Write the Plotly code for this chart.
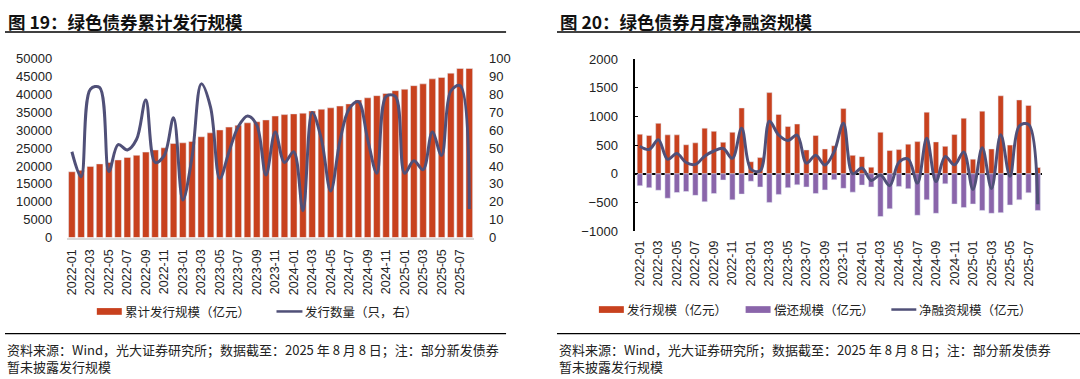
import plotly.graph_objects as go

W, H = 1080, 379

months = ["2022-01", "2022-02", "2022-03", "2022-04", "2022-05", "2022-06", "2022-07", "2022-08",
          "2022-09", "2022-10", "2022-11", "2022-12", "2023-01", "2023-02", "2023-03", "2023-04",
          "2023-05", "2023-06", "2023-07", "2023-08", "2023-09", "2023-10", "2023-11", "2023-12",
          "2024-01", "2024-02", "2024-03", "2024-04", "2024-05", "2024-06", "2024-07", "2024-08",
          "2024-09", "2024-10", "2024-11", "2024-12", "2025-01", "2025-02", "2025-03", "2025-04",
          "2025-05", "2025-06", "2025-07", "2025-08"]
tick_months = months[::2]

# Figure 19: cumulative issuance (100m CNY) and number of bonds issued
cum_issue = [18400, 18800, 19900, 20600, 21000, 21700, 22400, 23000, 23900, 24500, 25100, 26300,
             26500, 26900, 28200, 29300, 30100, 30900, 31400, 32100, 32400, 32900, 34000, 34400,
             34600, 34800, 35400, 35900, 36300, 36800, 37400, 38500, 39100, 39700, 40300, 41100,
             41500, 42500, 43000, 44400, 44800, 46000, 47300, 47300]
issue_count = [48, 34, 83, 84, 37, 52, 49, 55, 77, 42, 46, 67, 21, 45, 86, 73, 33, 48, 62, 68,
               63, 35, 59, 42, 48, 15, 70, 55, 26, 54, 72, 76, 55, 36, 79, 79, 36, 43, 38, 59,
               46, 82, 85, 16]

# Figure 20: monthly issuance, repayment, net financing (100m CNY)
issuance = [690, 667, 880, 679, 679, 506, 540, 796, 741, 550, 724, 1148, 210, 282, 1416, 1036,
            824, 868, 416, 667, 433, 489, 1137, 321, 299, 115, 724, 405, 422, 517, 561, 1075,
            556, 478, 684, 969, 255, 1093, 433, 1361, 500, 1288, 1193, 109]
repayment = [-209, -243, -288, -427, -327, -310, -377, -489, -344, -109, -455, -355, -131, -231,
             -500, -360, -243, -193, -231, -344, -282, -103, -254, -321, -198, -231, -746, -612,
             -221, -260, -724, -455, -690, -176, -528, -590, -528, -640, -690, -679, -545, -455,
             -332, -640]
net_financing = [481, 424, 592, 252, 352, 196, 163, 307, 397, 441, 269, 793, 79, 51, 916, 676,
                 581, 675, 185, 323, 151, 386, 883, 0, 101, -116, -22, -207, 201, 257, -163, 620,
                 -134, 302, 156, 379, -273, 453, -257, 682, -45, 833, 861, -531]

RED = "#C8411E"
PURPLE = "#8A65AA"
LINE = "#505078"
TXT = "#222222"
NUM_FONT = "Liberation Sans, Arial, Noto Sans CJK SC"
CJK_FONT = "Noto Sans CJK SC, Liberation Sans"


def px(x):
    return x / W


def py(y):
    return 1 - y / H


fig = go.Figure()

fig.add_trace(go.Bar(x=months, y=cum_issue, xaxis="x", yaxis="y", marker_color=RED,
                     width=0.72, name="累计发行规模（亿元）", showlegend=False))
fig.add_trace(go.Scatter(x=months, y=issue_count, xaxis="x", yaxis="y2", mode="lines",
                         line=dict(color=LINE, width=3, shape="spline", smoothing=1),
                         name="发行数量（只，右）", showlegend=False))

fig.add_trace(go.Bar(x=months, y=issuance, xaxis="x2", yaxis="y3", marker_color=RED,
                     width=0.58, name="发行规模（亿元）", showlegend=False))
fig.add_trace(go.Bar(x=months, y=repayment, xaxis="x2", yaxis="y3", marker_color=PURPLE,
                     width=0.58, name="偿还规模（亿元）", showlegend=False))
fig.add_trace(go.Scatter(x=months, y=net_financing, xaxis="x2", yaxis="y3", mode="lines",
                         line=dict(color=LINE, width=3, shape="spline", smoothing=1),
                         name="净融资规模（亿元）", showlegend=False))

xcommon = dict(type="category", range=[-0.5, 43.5], tickmode="array", tickvals=tick_months,
               ticktext=tick_months, tickangle=-90, showgrid=False, zeroline=False,
               tickfont=dict(family=NUM_FONT, size=12.5, color=TXT), ticks="", fixedrange=True)

fig.update_layout(
    width=W, height=H, autosize=False,
    margin=dict(l=0, r=0, t=0, b=0),
    paper_bgcolor="white", plot_bgcolor="white",
    barmode="overlay",
    font=dict(family=NUM_FONT, color=TXT),
    xaxis=dict(domain=[px(65.4), px(472.8)], anchor="y", showline=True, linecolor="#D9D9D9",
               linewidth=1.5, ticklabelstandoff=5, **xcommon),
    yaxis=dict(domain=[py(240), py(54)], range=[0, 50000], dtick=5000, tick0=0,
               tickformat="d",
               showgrid=False, zeroline=False, showline=False, ticks="",
               ticklabelstandoff=14,
               tickfont=dict(family=NUM_FONT, size=13, color=TXT), anchor="x"),
    yaxis2=dict(domain=[py(240), py(54)], range=[0, 100], dtick=10, tick0=0, overlaying="y",
                side="right", anchor="x", showgrid=False, zeroline=False, showline=False,
                ticks="", ticklabelstandoff=14,
                tickfont=dict(family=NUM_FONT, size=13, color=TXT)),
    xaxis2=dict(domain=[px(634.4), px(1042.3)], anchor="y3", showline=False,
                ticklabelstandoff=6, **xcommon),
    yaxis3=dict(domain=[py(233.3), py(54.3)], range=[-1000, 2000], dtick=500, tick0=0,
                tickformat="d",
                anchor="x2", showgrid=False, showline=True, linecolor="#000000", linewidth=1.5,
                ticks="inside", ticklen=3, tickcolor="#000000", tickwidth=1.2,
                zeroline=True, zerolinecolor="#000000", zerolinewidth=1.5,
                ticklabelstandoff=13,
                tickfont=dict(family=NUM_FONT, size=13, color=TXT)),
)

shapes = []
annotations = []

FOOT = "资料来源：Wind，光大证券研究所；数据截至：2025 年 8 月 8 日；注：部分新发债券<br>暂未披露发行规模"

# Titles and rules
for x0, x1, title in [(3, 505, "图 19：绿色债券累计发行规模"), (556, 1080, "图 20：绿色债券月度净融资规模")]:
    annotations.append(dict(x=px(x0 + 1), y=py(15), xref="paper", yref="paper", xanchor="left",
                            yanchor="middle", showarrow=False, text="<b>" + title + "</b>",
                            font=dict(family=CJK_FONT, size=17.5, color="#111111")))
    shapes.append(dict(type="line", xref="paper", yref="paper", x0=px(x0), x1=px(x1),
                       y0=py(26), y1=py(26), line=dict(color="#000000", width=1.5)))
    shapes.append(dict(type="line", xref="paper", yref="paper", x0=px(x0), x1=px(x1),
                       y0=py(340), y1=py(340), line=dict(color="#000000", width=1.2)))
    annotations.append(dict(x=px(x0), y=py(344.5), xref="paper", yref="paper", xanchor="left",
                            yanchor="top", align="left", showarrow=False, text=FOOT,
                            font=dict(family=CJK_FONT, size=13, color=TXT)))


# Legends (drawn manually)
def legend_rect(x0, x1, y, color):
    shapes.append(dict(type="rect", xref="paper", yref="paper", x0=px(x0), x1=px(x1),
                       y0=py(y + 3.5), y1=py(y - 3.5), line=dict(width=0), fillcolor=color))


def legend_line(x0, x1, y, color):
    shapes.append(dict(type="line", xref="paper", yref="paper", x0=px(x0), x1=px(x1),
                       y0=py(y), y1=py(y), line=dict(color=color, width=2.5)))


def legend_text(x, y, text):
    annotations.append(dict(x=px(x), y=py(y), xref="paper", yref="paper", xanchor="left",
                            yanchor="middle", showarrow=False, text=text,
                            font=dict(family=CJK_FONT, size=12.5, color=TXT)))


legend_rect(95, 120, 317, RED)
legend_text(121, 317, "累计发行规模（亿元）")
legend_line(275, 301, 317, LINE)
legend_text(302, 317, "发行数量（只，右）")

legend_rect(598, 623, 315, RED)
legend_text(624, 315, "发行规模（亿元）")
legend_rect(745, 770, 315, PURPLE)
legend_text(771, 315, "偿还规模（亿元）")
legend_line(891, 916, 315, LINE)
legend_text(917, 315, "净融资规模（亿元）")

fig.update_layout(shapes=shapes, annotations=annotations)

fig.write_html("out.html", config={"displayModeBar": False},
               post_script="document.body.style.margin='0';document.body.style.overflow='hidden';")
